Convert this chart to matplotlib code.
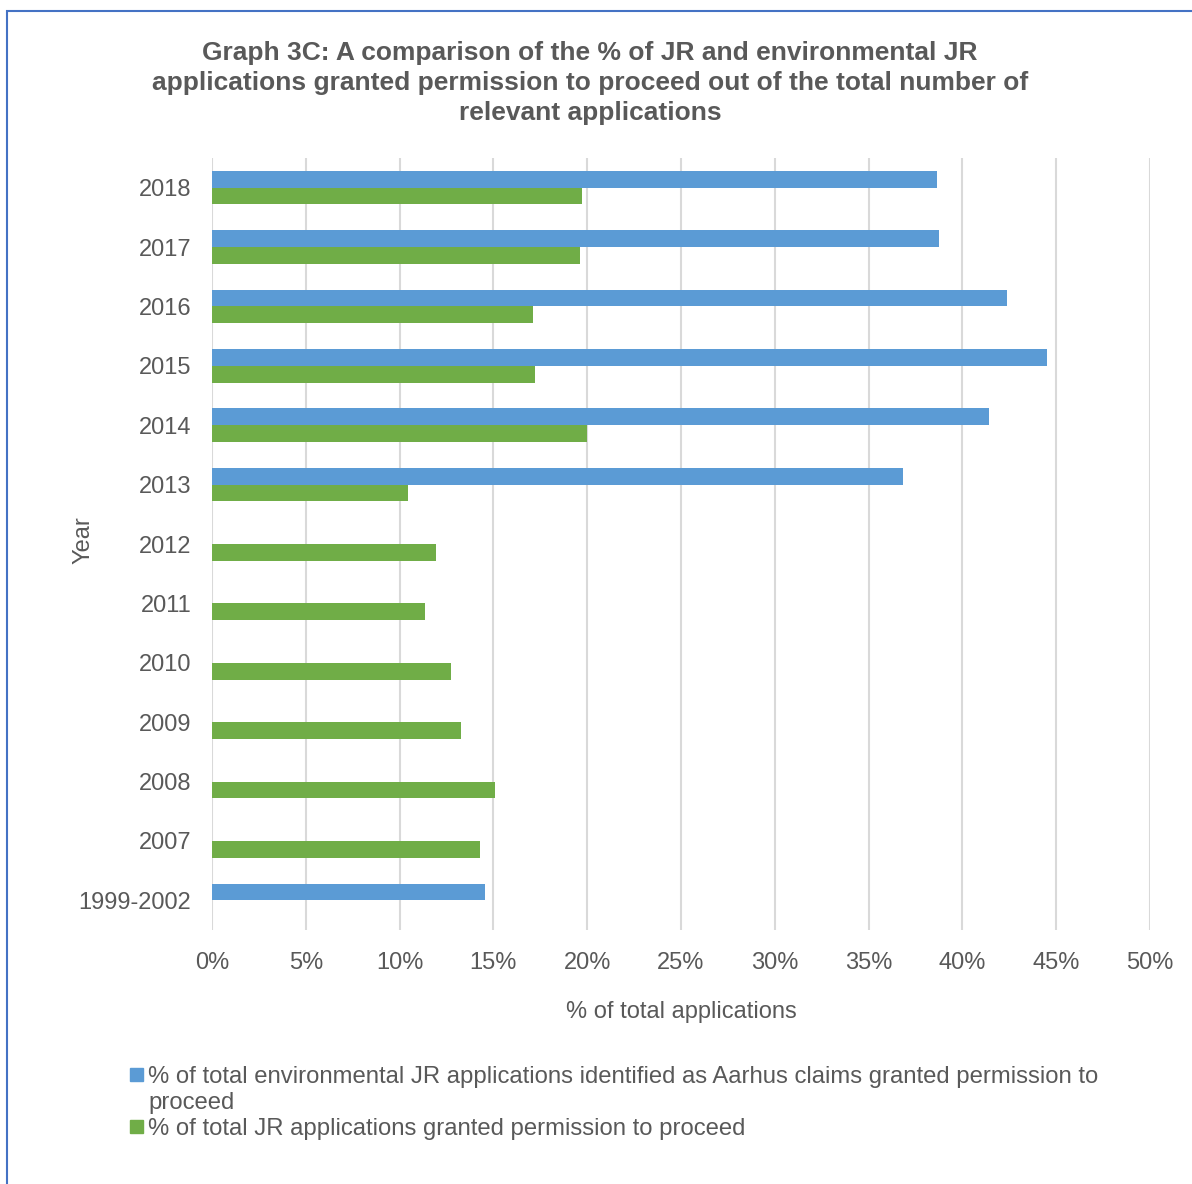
import numpy as np
import matplotlib.pyplot as plt
from matplotlib.patches import Rectangle
from matplotlib.ticker import PercentFormatter

plt.rcParams['font.family'] = ['Liberation Sans', 'DejaVu Sans']

# bottom to top, as drawn on the y axis
years = ['1999-2002', '2007', '2008', '2009', '2010', '2011', '2012',
         '2013', '2014', '2015', '2016', '2017', '2018']
aarhus = [14.56, None, None, None, None, None, None,
          36.83, 41.43, 44.5, 42.4, 38.75, 38.66]
all_jr = [None, 14.26, 15.06, 13.25, 12.74, 11.37, 11.92,
          10.46, 20.0, 17.23, 17.1, 19.6, 19.73]

label_aarhus = ('% of total environmental JR applications identified as Aarhus claims granted permission to\n'
                'proceed')
label_jr = '% of total JR applications granted permission to proceed'

blue = '#5B9BD5'
green = '#70AD47'
txt = '#595959'

fig = plt.figure(figsize=(11.92, 11.84), dpi=100)
ax = fig.add_axes([212 / 1192, 1 - 930 / 1184, 938 / 1192, 772 / 1184])

y = np.arange(len(years))
h = 0.283
a_vals = np.array([np.nan if v is None else v for v in aarhus])
j_vals = np.array([np.nan if v is None else v for v in all_jr])
ax.barh(y + h / 2, np.nan_to_num(a_vals), height=h, color=blue, zorder=3)
ax.barh(y - h / 2, np.nan_to_num(j_vals), height=h, color=green, zorder=3)

ax.set_xlim(0, 50)
ax.set_ylim(-0.5, len(years) - 0.5)
ax.set_xticks(np.arange(0, 51, 5))
ax.xaxis.set_major_formatter(PercentFormatter(decimals=0))
ax.set_yticks(y)
ax.set_yticklabels(years)
ax.tick_params(axis='both', length=0, labelsize=17, colors=txt)
ax.tick_params(axis='x', pad=16)
ax.tick_params(axis='y', pad=15)
for s in ax.spines.values():
    s.set_visible(False)
ax.grid(axis='x', color='#D9D9D9', linewidth=1.5, zorder=0)

ax.set_xlabel('% of total applications', fontsize=17, color=txt, labelpad=19)
fig.text(83 / 1192, 1 - 540 / 1184, 'Year', rotation=90, fontsize=17,
         color=txt, ha='center', va='center')

fig.text(590 / 1192, 1 - 83 / 1184,
         'Graph 3C: A comparison of the % of JR and environmental JR\n'
         'applications granted permission to proceed out of the total number of\n'
         'relevant applications',
         ha='center', va='center', fontsize=19, fontweight='bold', color=txt,
         linespacing=1.32)

# legend, drawn by hand so the marker sits on the first text line
for yy, col, lab in [(1075, blue, label_aarhus), (1127, green, label_jr)]:
    fig.patches.append(Rectangle((130 / 1192, 1 - (yy + 6) / 1184), 13 / 1192, 13 / 1184,
                                 transform=fig.transFigure, color=col))
    fig.text(148 / 1192, 1 - (yy - 9) / 1184, lab, fontsize=17.2, color=txt,
             ha='left', va='top', linespacing=1.24)

# chart border
fig.patches.append(Rectangle((7 / 1192, -0.05), 1.2, 1 - 11 / 1184 + 0.05,
                             transform=fig.transFigure, fill=False,
                             edgecolor='#4472C4', linewidth=1.5))

fig.savefig('out.png', dpi=100)
